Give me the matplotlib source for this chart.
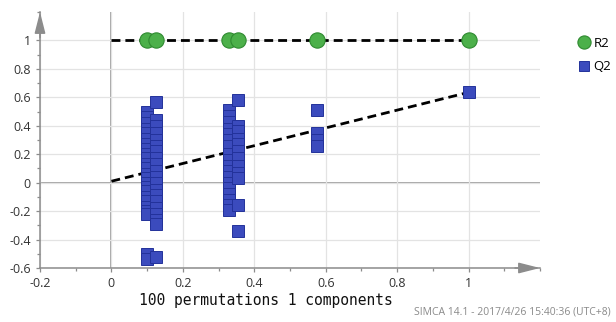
import matplotlib
matplotlib.use("Agg")
import matplotlib.pyplot as plt
from matplotlib.lines import Line2D
from matplotlib.ticker import MultipleLocator

# permutation results
r2_x = [0.1, 0.125, 0.33, 0.355, 0.575, 1.0]
r2_y = [1.0, 1.0, 1.0, 1.0, 1.0, 1.0]

q2_x_a = 0.1
q2_y_a = [0.50, 0.46, 0.42, 0.38, 0.35, 0.31, 0.27, 0.24, 0.20, 0.17, 0.13, 0.10,
          0.06, 0.03, 0.0, -0.03, -0.06, -0.10, -0.13, -0.17, -0.20, -0.22, -0.50, -0.54]
q2_x_b = 0.125
q2_y_b = [0.57, 0.44, 0.40, 0.35, 0.30, 0.26, 0.22, 0.17, 0.13, 0.08, 0.04, 0.0,
          -0.05, -0.09, -0.13, -0.18, -0.22, -0.26, -0.29, -0.52]
q2_x_c = 0.33
q2_y_c = [0.51, 0.47, 0.43, 0.38, 0.34, 0.30, 0.26, 0.20, 0.16, 0.12, 0.08, 0.04,
          0.0, -0.04, -0.08, -0.12, -0.16, -0.19]
q2_x_d = 0.355
q2_y_d = [0.58, 0.40, 0.36, 0.31, 0.27, 0.22, 0.17, 0.12, 0.07, 0.03, -0.16, -0.34]
q2_x_e = 0.575
q2_y_e = [0.51, 0.35, 0.30, 0.26]
q2_x_f = 1.0
q2_y_f = [0.64]

# regression lines (intercepts)
r2_line_x = [0.0, 1.0]
r2_line_y = [1.0, 1.0]
q2_line_x = [0.0, 1.0]
q2_line_y = [0.01, 0.635]

q2_x = ([q2_x_a] * len(q2_y_a) + [q2_x_b] * len(q2_y_b) + [q2_x_c] * len(q2_y_c)
        + [q2_x_d] * len(q2_y_d) + [q2_x_e] * len(q2_y_e) + [q2_x_f] * len(q2_y_f))
q2_y = q2_y_a + q2_y_b + q2_y_c + q2_y_d + q2_y_e + q2_y_f

green = "#4cb04a"
green_edge = "#2f8a30"
blue = "#3b4bbd"
blue_edge = "#23329a"
axis_gray = "#8c8c8c"
grid_gray = "#e3e3e3"

fig = plt.figure(figsize=(6.16, 3.22), dpi=100)
ax = fig.add_axes([40 / 616, 1 - 268 / 322, 500 / 616, 256 / 322])

ax.set_xlim(-0.2, 1.2)
ax.set_ylim(-0.6, 1.2)
ax.xaxis.set_minor_locator(MultipleLocator(0.1))
ax.yaxis.set_minor_locator(MultipleLocator(0.1))
ax.set_xticks([-0.2, 0, 0.2, 0.4, 0.6, 0.8, 1.0])
ax.set_xticklabels(["-0.2", "0", "0.2", "0.4", "0.6", "0.8", "1"])
ax.set_yticks([-0.6, -0.4, -0.2, 0, 0.2, 0.4, 0.6, 0.8, 1.0])
ax.set_yticklabels(["-0.6", "-0.4", "-0.2", "0", "0.2", "0.4", "0.6", "0.8", "1"])

ax.grid(True, which="major", color=grid_gray, linewidth=0.9, zorder=0)
ax.axhline(0, color=axis_gray, linewidth=1.1, zorder=1)
ax.axvline(0, color=axis_gray, linewidth=1.1, zorder=1)

for s in ["top", "right"]:
    ax.spines[s].set_visible(False)
for s in ["left", "bottom"]:
    ax.spines[s].set_color(axis_gray)
    ax.spines[s].set_linewidth(1.1)
ax.tick_params(which="both", colors=axis_gray, length=3, width=0.9,
               labelcolor="#333333", labelsize=9)
ax.tick_params(which="minor", length=2.5)
for lab in ax.get_xticklabels() + ax.get_yticklabels():
    lab.set_fontfamily("Open Sans")

# arrow heads on the axes
head = dict(arrowstyle="-|>,head_length=1.3,head_width=0.33", color=axis_gray,
            lw=1.1, mutation_scale=10, shrinkA=0, shrinkB=0)
ax.annotate("", xy=(0, 1.0), xytext=(0, 0.9), xycoords="axes fraction",
            arrowprops=head, annotation_clip=False)
ax.annotate("", xy=(1.0, 0), xytext=(0.95, 0), xycoords="axes fraction",
            arrowprops=head, annotation_clip=False)

ax.plot(r2_line_x, r2_line_y, color="black", linestyle=(0, (3.2, 1.8)), linewidth=2, zorder=3)
ax.plot(q2_line_x, q2_line_y, color="black", linestyle=(0, (3.2, 1.8)), linewidth=2, zorder=3)

ax.plot(q2_x, q2_y, linestyle="none", marker="s", markersize=9, markerfacecolor=blue,
        markeredgecolor=blue_edge, markeredgewidth=0.7, zorder=4)
ax.plot(r2_x, r2_y, linestyle="none", marker="o", markersize=11, markerfacecolor=green,
        markeredgecolor=green_edge, markeredgewidth=0.8, zorder=5)

handles = [
    Line2D([], [], linestyle="none", marker="o", markersize=9.5, markerfacecolor=green,
           markeredgecolor=green_edge, markeredgewidth=0.8),
    Line2D([], [], linestyle="none", marker="s", markersize=7.5, markerfacecolor=blue,
           markeredgecolor=blue_edge, markeredgewidth=0.7),
]
fig.legend(handles, ["R2", "Q2"], loc="upper left", bbox_to_anchor=(566 / 616, 1 - 25 / 322),
           frameon=False, handletextpad=0.2, labelspacing=0.8, handlelength=1.0,
           prop={"family": "Open Sans", "size": 9.5})

fig.text(266 / 616, 1 - 300 / 322, "100 permutations 1 components", ha="center", va="center",
         family="DejaVu Sans Mono", fontsize=10.5, color="#111111")
fig.text(611 / 616, 1 - 312 / 322, "SIMCA 14.1 - 2017/4/26 15:40:36 (UTC+8)", ha="right",
         va="center", family="Open Sans", fontsize=7.5, color="#8a8a8a")

fig.savefig("out.png", dpi=100)
